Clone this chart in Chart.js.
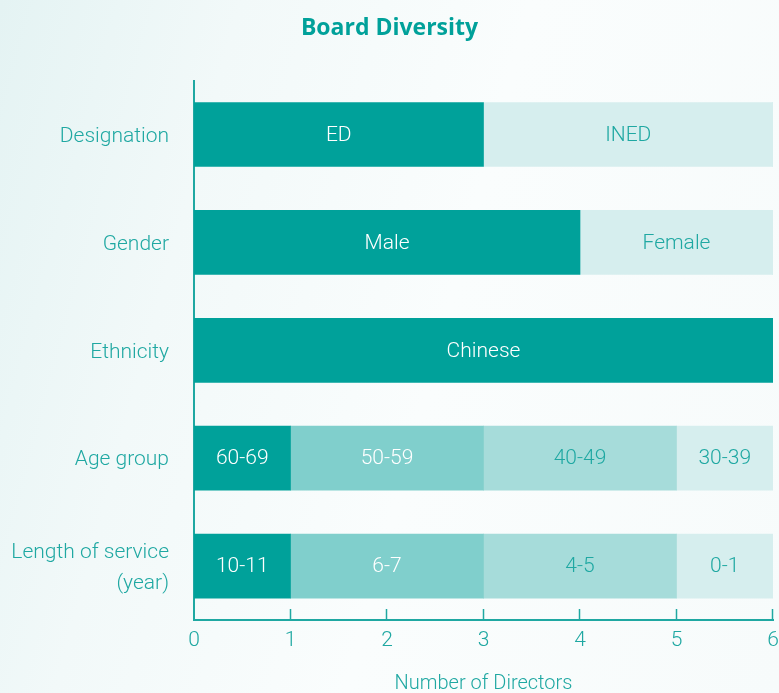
<!DOCTYPE html>
<html>
<head>
<meta charset="utf-8">
<script src="https://cdn.jsdelivr.net/npm/chart.js@4/dist/chart.umd.min.js"></script>
<style>
html,body{margin:0;padding:0;width:779px;height:693px;overflow:hidden;}
body{background:linear-gradient(105deg,#e4f3f3 0%,#f2f9f9 25%,#fafdfd 55%,#f7fbfb 100%);}
#wrap{position:relative;width:779px;height:693px;}
canvas{display:block;}
</style>
</head>
<body>
<div id="wrap"><canvas id="c" width="779" height="693"></canvas></div>
<script>
// ---- data ----
const categories = ['Designation', 'Gender', 'Ethnicity', 'Age group', ['Length of service', '(year)']];
const seg1Values = [3, 4, 6, 1, 1];
const seg1Labels = ['ED', 'Male', 'Chinese', '60-69', '10-11'];
const seg2Values = [3, 2, 0, 2, 2];
const seg2Labels = ['INED', 'Female', '', '50-59', '6-7'];
const seg3Values = [0, 0, 0, 2, 2];
const seg3Labels = ['', '', '', '40-49', '4-5'];
const seg4Values = [0, 0, 0, 1, 1];
const seg4Labels = ['', '', '', '30-39', '0-1'];
const xTicks = [0, 1, 2, 3, 4, 5, 6];

// ---- styles ----
const TEAL = '#00a19a';
const TEXT_TEAL = '#1fa8a2';
const MID = '#80cfcc';
const LIGHTMID = '#a6dcda';
const LIGHT = '#d6eeee';
const WHITE = '#ffffff';
const FONT = 'Roboto, "Open Sans", sans-serif';

const datasets = [
  {label: 'seg1', data: seg1Values, segLabels: seg1Labels,
   backgroundColor: [TEAL, TEAL, TEAL, TEAL, TEAL],
   textColor: [WHITE, WHITE, WHITE, WHITE, WHITE]},
  {label: 'seg2', data: seg2Values, segLabels: seg2Labels,
   backgroundColor: [LIGHT, LIGHT, LIGHT, MID, MID],
   textColor: [TEXT_TEAL, TEXT_TEAL, TEXT_TEAL, WHITE, WHITE]},
  {label: 'seg3', data: seg3Values, segLabels: seg3Labels,
   backgroundColor: [LIGHTMID, LIGHTMID, LIGHTMID, LIGHTMID, LIGHTMID],
   textColor: [TEXT_TEAL, TEXT_TEAL, TEXT_TEAL, TEXT_TEAL, TEXT_TEAL]},
  {label: 'seg4', data: seg4Values, segLabels: seg4Labels,
   backgroundColor: [LIGHT, LIGHT, LIGHT, LIGHT, LIGHT],
   textColor: [TEXT_TEAL, TEXT_TEAL, TEXT_TEAL, TEXT_TEAL, TEXT_TEAL]}
].map(d => Object.assign(d, {borderWidth: 0, barThickness: 64, borderSkipped: false}));

const segLabelPlugin = {
  id: 'segLabels',
  afterDatasetsDraw(chart) {
    const ctx = chart.ctx;
    ctx.save();
    ctx.font = '300 21px ' + FONT;
    ctx.textAlign = 'center';
    ctx.textBaseline = 'middle';
    chart.data.datasets.forEach((ds, di) => {
      const meta = chart.getDatasetMeta(di);
      meta.data.forEach((bar, i) => {
        const v = ds.data[i];
        const txt = ds.segLabels[i];
        if (!v || !txt) return;
        const p = bar.getProps(['x', 'y', 'base'], true);
        ctx.fillStyle = ds.textColor[i];
        ctx.fillText(txt, (p.x + p.base) / 2, p.y + 1);
      });
    });
    ctx.restore();
  }
};

const tickMarkPlugin = {
  id: 'tickMarks',
  afterDraw(chart) {
    const ctx = chart.ctx;
    const xs = chart.scales.x;
    const bottom = chart.chartArea.bottom;
    ctx.save();
    ctx.strokeStyle = TEXT_TEAL;
    ctx.lineWidth = 1.5;
    xTicks.forEach(v => {
      if (v === 0) return;
      const px = Math.round(xs.getPixelForValue(v)) - 0.5;
      ctx.beginPath();
      ctx.moveTo(px, bottom);
      ctx.lineTo(px, bottom - 11);
      ctx.stroke();
    });
    ctx.restore();
  }
};

new Chart(document.getElementById('c'), {
  type: 'bar',
  data: {labels: categories, datasets: datasets},
  options: {
    indexAxis: 'y',
    responsive: false,
    animation: false,
    layout: {padding: {left: 0, right: 0, top: 0, bottom: 0}},
    plugins: {
      legend: {display: false},
      tooltip: {enabled: false},
      title: {
        display: true,
        text: 'Board Diversity',
        color: TEAL,
        font: {family: '"Open Sans", Lato, sans-serif', size: 23, weight: 'bold'},
        padding: {top: 15, bottom: 38}
      }
    },
    scales: {
      x: {
        stacked: true,
        min: 0, max: 6,
        afterBuildTicks: s => { s.ticks = xTicks.map(v => ({value: v})); },
        afterFit: s => { s.height = 73; s.paddingRight = 6; s.paddingLeft = 0; },
        grid: {display: false, drawTicks: false},
        border: {display: true, color: TEXT_TEAL, width: 2},
        ticks: {color: TEXT_TEAL, padding: 8, font: {family: FONT, size: 21, weight: '300'}},
        title: {display: true, text: 'Number of Directors', color: TEXT_TEAL,
                padding: {top: 0, bottom: -3}, font: {family: FONT, size: 20, weight: '300'}}
      },
      y: {
        stacked: true,
        afterFit: s => { s.width = 194; },
        grid: {display: false, drawTicks: false},
        border: {display: true, color: TEXT_TEAL, width: 2},
        ticks: {color: TEXT_TEAL, padding: 25, labelOffset: 2, font: {family: FONT, size: 21, weight: '300', lineHeight: 1.5}}
      }
    }
  },
  plugins: [segLabelPlugin, tickMarkPlugin]
});
</script>
</body>
</html>
